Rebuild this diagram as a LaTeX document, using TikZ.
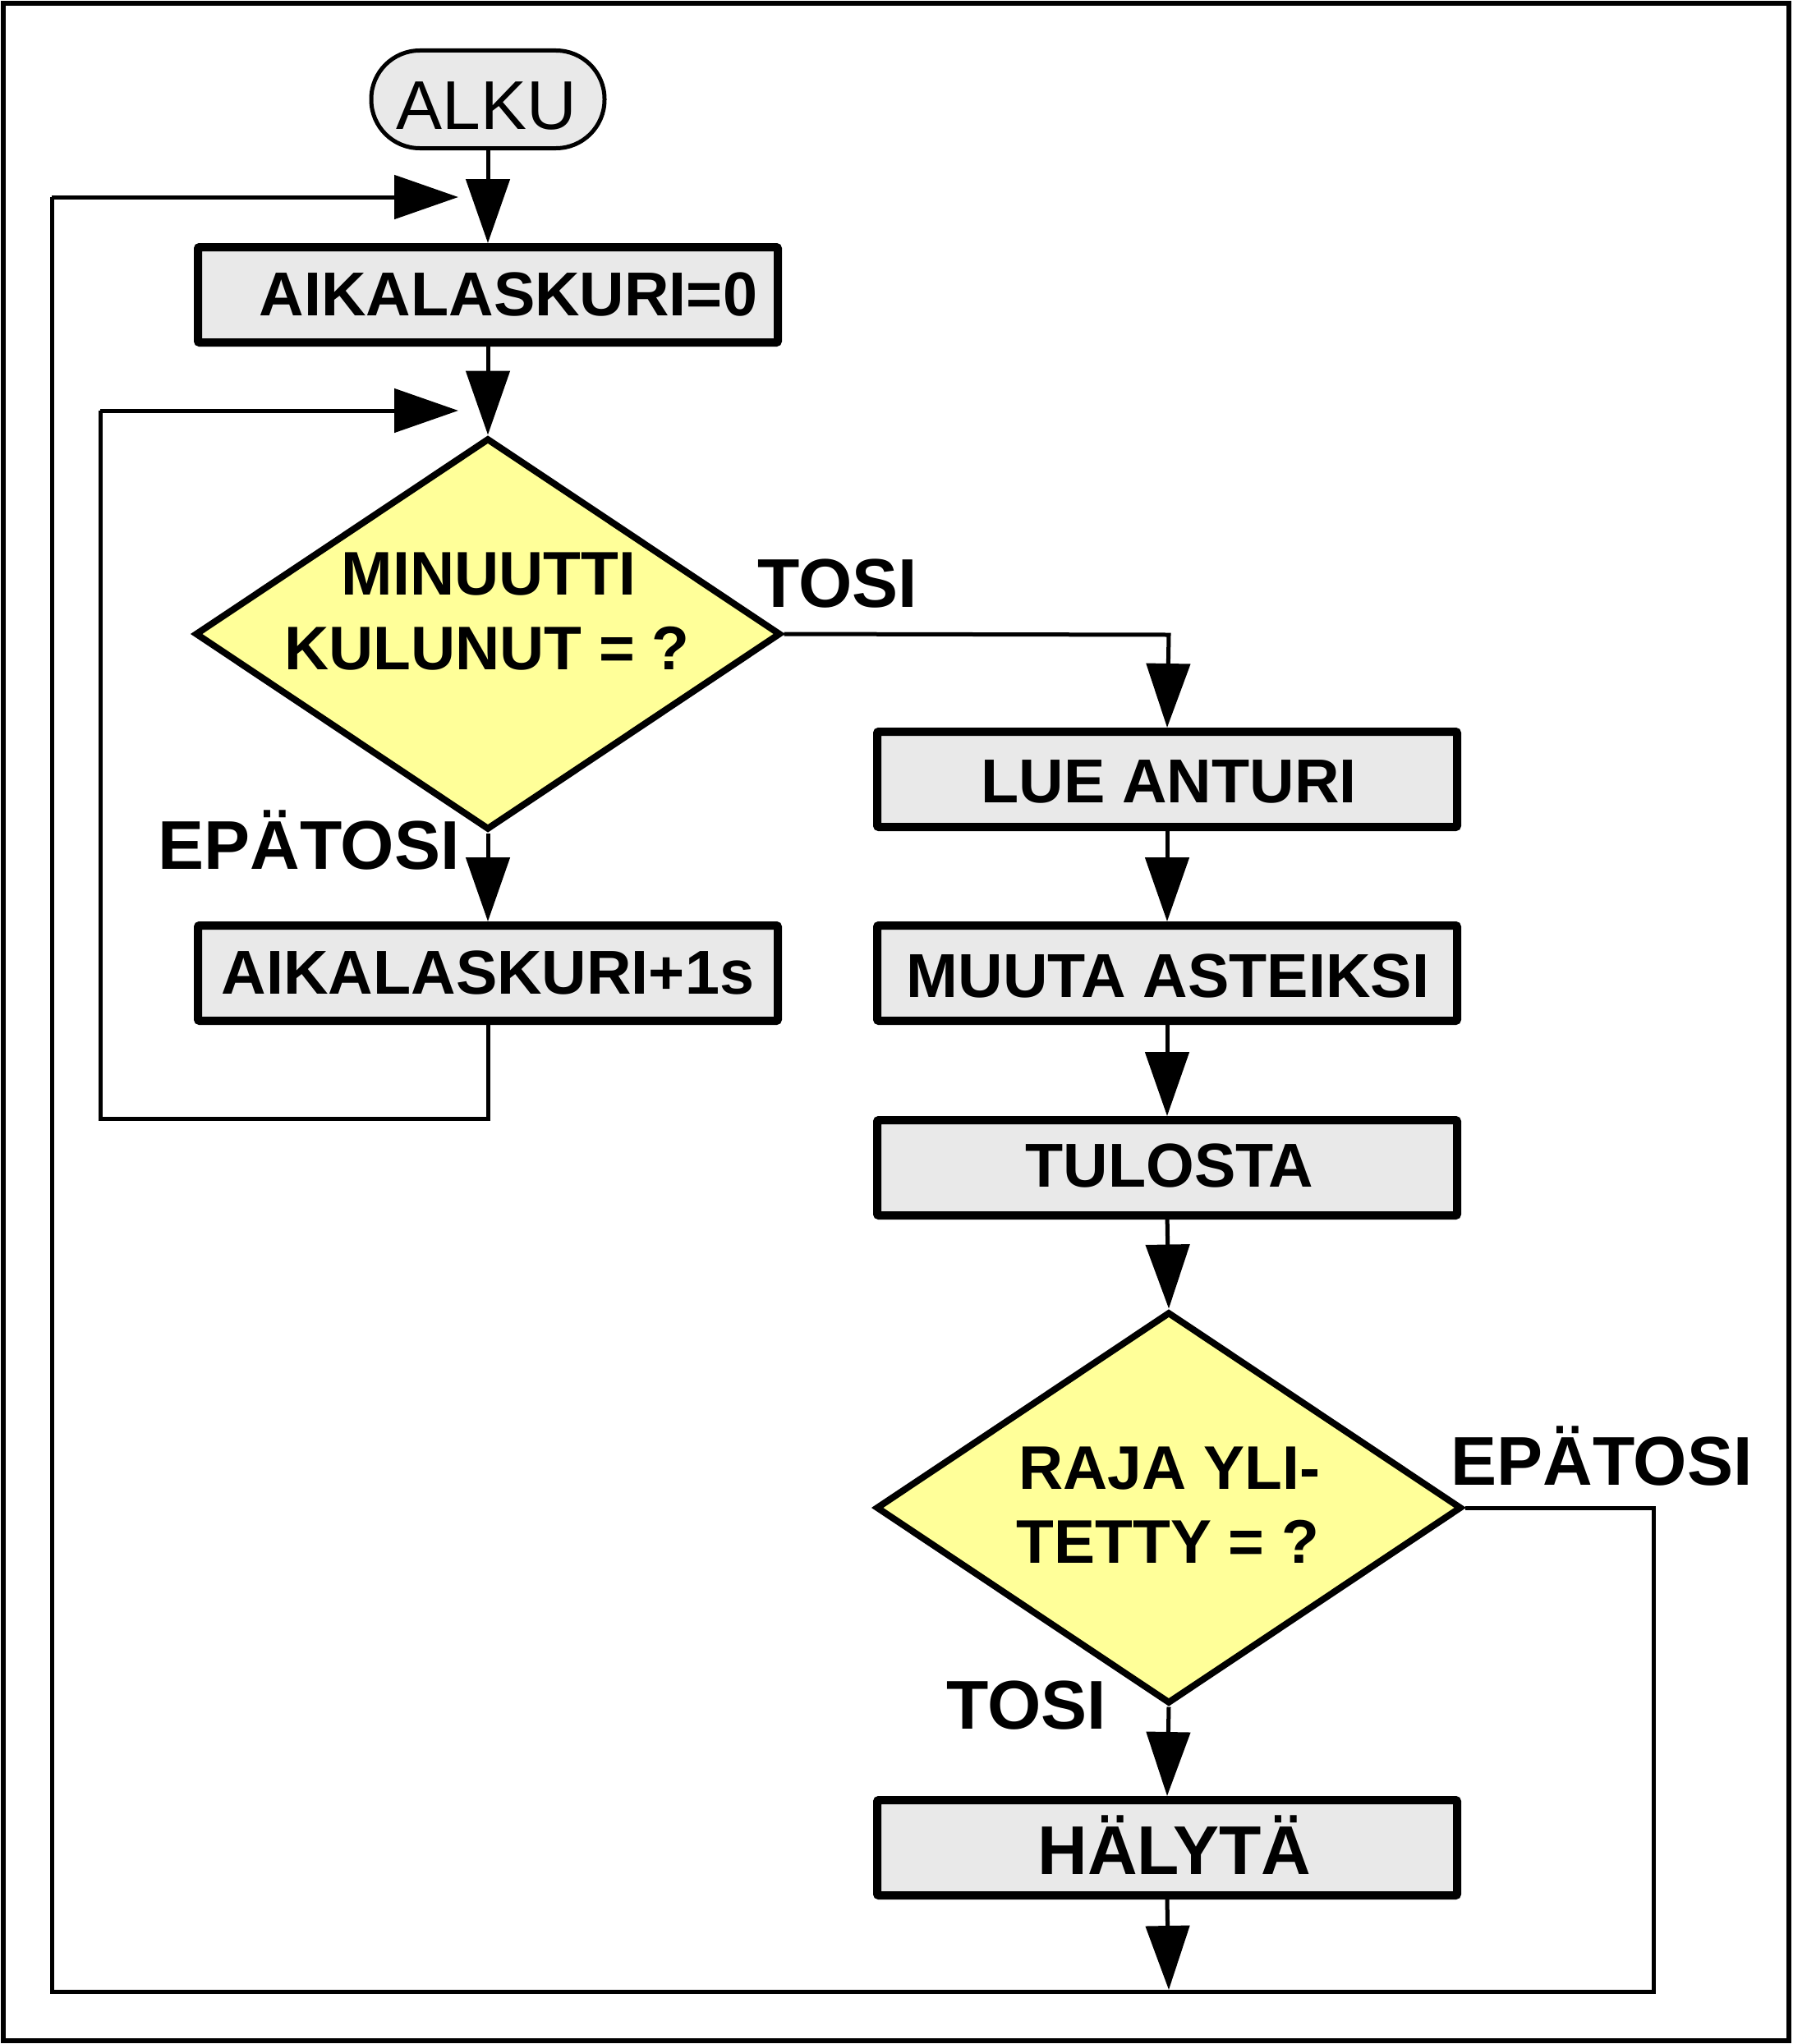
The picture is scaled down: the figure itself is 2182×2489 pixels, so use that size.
\documentclass[tikz,border=0pt]{standalone}
\usepackage{fontspec}
\setmainfont{Liberation Sans}
\usetikzlibrary{arrows.meta,shapes.geometric}
\definecolor{boxgray}{RGB}{233,233,233}
\definecolor{diayellow}{RGB}{255,255,153}
\begin{document}
\begin{tikzpicture}[x=1pt,y=-1pt,
  procbox/.style={draw=black, line width=10pt, fill=boxgray, rounded corners=2pt,
    minimum width=706pt, minimum height=116pt, inner sep=0pt},
  boxtext/.style={inner sep=0pt, font=\fontsize{75.5pt}{80pt}\selectfont\bfseries,
    text height=54pt, text depth=0pt},
  decision/.style={draw=black, line width=8pt, fill=diayellow, shape=diamond,
    minimum width=713pt, minimum height=477pt, inner sep=0pt, line join=miter},
  diatext/.style={inner sep=0pt, font=\fontsize{75pt}{78pt}\selectfont\bfseries,
    text height=53pt, text depth=0pt},
  lbl/.style={inner sep=0pt, font=\fontsize{84pt}{88pt}\selectfont\bfseries,
    text height=60pt, text depth=0pt},
  conn/.style={draw=black, line width=5pt},
  arr/.style={conn, -{Triangle[width=53pt,length=78pt]}}
]
\useasboundingbox (0,0) rectangle (2182,2489);
\draw[line width=6pt] (4,4) rectangle (2178,2485);

% start terminal
\node[draw=black, line width=5pt, fill=boxgray, rounded corners=59pt,
  minimum width=284pt, minimum height=119pt, inner sep=0pt] (alku) at (594,121) {};
\node[inner sep=0pt, font=\fontsize{84pt}{88pt}\selectfont, text height=60pt, text depth=0pt]
  (alkut) at (592,127) {ALKU};

% left column
\node[procbox] (b1) at (594,359) {};
\node[boxtext] (b1t) at (619,357) {AIKALASKURI=0};
\node[decision] (d1) at (594,772) {};
\node[diatext] (d1a) at (595,698) {MINUUTTI};
\node[diatext] (d1b) at (593,789) {KULUNUT = ?};
\node[procbox] (b2) at (594,1185) {};
\node[boxtext] (b2t) at (594,1183) {AIKALASKURI+1s};

% right column
\node[procbox] (r1) at (1421,949) {};
\node[boxtext] (r1t) at (1423,950) {LUE ANTURI};
\node[procbox] (r2) at (1421,1185) {};
\node[boxtext] (r2t) at (1422,1187) {MUUTA ASTEIKSI};
\node[procbox] (r3) at (1421,1422) {};
\node[boxtext] (r3t) at (1424,1418) {TULOSTA};
\node[decision] (d2) at (1423,1836) {};
\node[diatext] (d2a) at (1424,1787) {RAJA YLI-};
\node[diatext] (d2b) at (1422,1877) {TETTY = ?};
\node[procbox] (r4) at (1421,2250) {};
\node[boxtext, font=\fontsize{84pt}{88pt}\selectfont\bfseries, text height=60pt]
  (r4t) at (1430,2252) {HÄLYTÄ};

% labels
\node[lbl] (l1) at (1020,709) {TOSI};
\node[lbl] (l2) at (376,1028) {EPÄTOSI};
\node[lbl] (l3) at (1950,1778) {EPÄTOSI};
\node[lbl] (l4) at (1250,2075) {TOSI};

% junction coordinates
\coordinate (j1) at (558,240);
\coordinate (j2) at (558,500);
\coordinate (c1) at (1423,773);
\coordinate (c2) at (2013,1836);
\coordinate (c3) at (2013,2425);
\coordinate (c4) at (63,2425);
\coordinate (c5) at (63,240);
\coordinate (c6) at (594,1362);
\coordinate (c7) at (122,1362);
\coordinate (c8) at (122,500);
\coordinate (j3) at (1423,2423);

% connectors
\draw[arr] (alku.south) -- (b1.north);
\draw[arr] (b1.south) -- (d1.north);
\draw[arr] (d1.south) -- (b2.north);
\draw[conn] (b2.south) -- (c6) -- (c7) -- (c8);
\draw[arr] (c8) -- (j2);
\draw[arr] (d1.east) -- (c1) -- (r1.north);
\draw[arr] ([yshift=5pt]r1.south) -- (r2.north);
\draw[arr] (r2.south) -- (r3.north);
\draw[arr] ([yshift=8pt]r3.south) -- (d2.north);
\draw[arr] (d2.south) -- (r4.north);
\draw[conn] (d2.east) -- (c2) -- (c3) -- (c4) -- (c5);
\draw[arr] (c5) -- (j1);
\draw[arr] (r4.south) -- (j3);
\end{tikzpicture}
\end{document}
